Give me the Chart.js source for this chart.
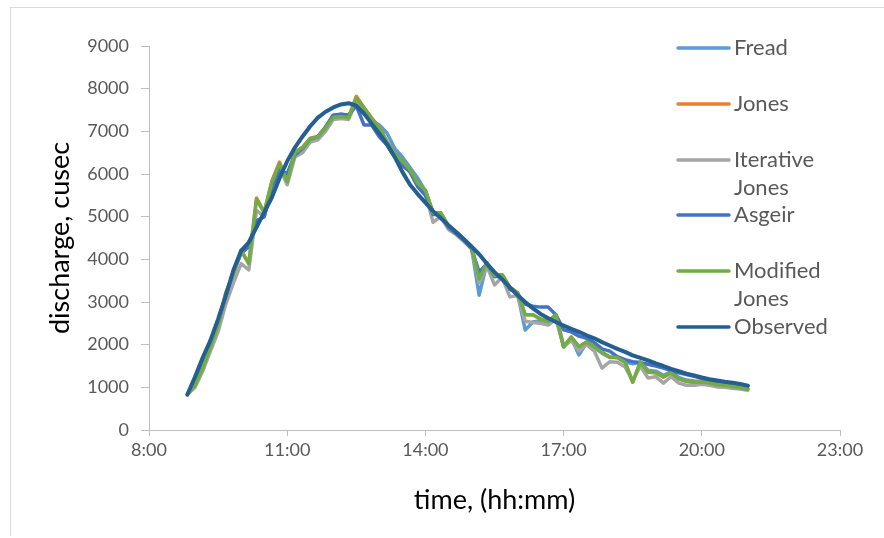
<!DOCTYPE html>
<html>
<head>
<meta charset="utf-8">
<script src="https://cdn.jsdelivr.net/npm/chart.js@4.4.1/dist/chart.umd.min.js"></script>
<style>
  html, body { margin: 0; padding: 0; background: #fff; }
  #wrap { width: 884px; height: 538px; position: relative; }
  #frame { position: absolute; left: 10px; top: 7px; right: 0; bottom: 2px;
           border-left: 1px solid #D9D9D9; border-top: 1px solid #D9D9D9; pointer-events: none; }
</style>
</head>
<body>
<div id="wrap"><canvas id="flood" width="884" height="538"></canvas><div id="frame"></div></div>
<script>
// time of each reading (hh:mm), 10 minute steps
const times = [
  '8:50',
  '9:00', '9:10', '9:20', '9:30', '9:40', '9:50',
  '10:00', '10:10', '10:20', '10:30', '10:40', '10:50',
  '11:00', '11:10', '11:20', '11:30', '11:40', '11:50',
  '12:00', '12:10', '12:20', '12:30', '12:40', '12:50',
  '13:00', '13:10', '13:20', '13:30', '13:40', '13:50',
  '14:00', '14:10', '14:20', '14:30', '14:40', '14:50',
  '15:00', '15:10', '15:20', '15:30', '15:40', '15:50',
  '16:00', '16:10', '16:20', '16:30', '16:40', '16:50',
  '17:00', '17:10', '17:20', '17:30', '17:40', '17:50',
  '18:00', '18:10', '18:20', '18:30', '18:40', '18:50',
  '19:00', '19:10', '19:20', '19:30', '19:40', '19:50',
  '20:00', '20:10', '20:20', '20:30', '20:40', '20:50',
  '21:00'
];

const fread = [
  830,
  1150, 1600, 2050, 2500, 3150, 3700,
  4150, 4300, 4900, 5000, 5700, 6100,
  6000, 6450, 6600, 6820, 6870, 7100,
  7380, 7400, 7380, 7650, 7400, 7250,
  7150, 6960, 6600, 6400, 6150, 5900,
  5600, 5100, 5080, 4780, 4630, 4450,
  4280, 3160, 3900, 3600, 3620, 3330,
  3200, 2340, 2530, 2560, 2540, 2680,
  1960, 2150, 1760, 2040, 1930, 1800,
  1700, 1700, 1600, 1550, 1580, 1400,
  1380, 1280, 1360, 1230, 1170, 1150,
  1140, 1120, 1080, 1070, 1040, 1010,
  970
];

const jones = [
  830,
  1060, 1460, 1960, 2460, 3220, 3660,
  4220, 3900, 5440, 5100, 5840, 6280,
  5820, 6510, 6630, 6840, 6880, 7100,
  7340, 7360, 7330, 7820, 7560, 7310,
  7100, 6760, 6480, 6300, 6100, 5780,
  5620, 5090, 5090, 4780, 4640, 4480,
  4300, 3540, 3920, 3620, 3640, 3350,
  3220, 2700, 2700, 2600, 2540, 2700,
  1950, 2180, 1950, 2060, 1950, 1820,
  1710, 1700, 1590, 1120, 1590, 1360,
  1340, 1240, 1340, 1200, 1140, 1120,
  1120, 1100, 1060, 1050, 1020, 990,
  950
];

const iterativeJones = [
  830,
  1000, 1380, 1850, 2300, 2950, 3450,
  3900, 3750, 5150, 5000, 5650, 6150,
  5750, 6400, 6500, 6750, 6800, 7000,
  7280, 7300, 7280, 7700, 7500, 7250,
  7050, 6720, 6420, 6250, 6050, 5720,
  5550, 4870, 5000, 4700, 4580, 4420,
  4250, 3450, 3850, 3400, 3580, 3120,
  3150, 2550, 2520, 2500, 2460, 2600,
  1950, 2100, 1850, 2000, 1850, 1450,
  1600, 1590, 1480, 1150, 1500, 1220,
  1250, 1100, 1250, 1100, 1050, 1050,
  1070, 1050, 1010, 1000, 980, 960,
  930
];

const asgeir = [
  830,
  1150, 1600, 2050, 2500, 3150, 3700,
  4150, 4300, 4900, 5000, 5700, 6100,
  6000, 6450, 6600, 6820, 6870, 7100,
  7380, 7400, 7380, 7600, 7150, 7150,
  6870, 6680, 6400, 6200, 6050, 5700,
  5500, 5050, 5050, 4750, 4600, 4450,
  4250, 3700, 3900, 3600, 3600, 3300,
  3200, 2950, 2900, 2880, 2880, 2700,
  2350, 2300, 2200, 2150, 2050, 1900,
  1850, 1720, 1650, 1600, 1580, 1540,
  1500, 1450, 1390, 1340, 1300, 1260,
  1210, 1170, 1140, 1110, 1090, 1060,
  1030
];

const modifiedJones = [
  830,
  1050, 1450, 1950, 2450, 3200, 3650,
  4200, 3900, 5400, 5100, 5800, 6250,
  5820, 6500, 6620, 6830, 6870, 7080,
  7330, 7350, 7320, 7780, 7550, 7300,
  7100, 6750, 6480, 6300, 6100, 5780,
  5620, 5090, 5090, 4780, 4640, 4480,
  4300, 3540, 3920, 3620, 3640, 3350,
  3220, 2700, 2700, 2600, 2540, 2700,
  1950, 2180, 1950, 2060, 1950, 1820,
  1710, 1700, 1590, 1120, 1590, 1360,
  1340, 1240, 1340, 1200, 1140, 1120,
  1120, 1100, 1060, 1050, 1020, 990,
  950
];

const observed = [
  830,
  1250, 1700, 2100, 2600, 3150, 3750,
  4200, 4400, 4750, 5100, 5450, 5900,
  6300, 6620, 6880, 7120, 7320, 7460,
  7560, 7630, 7660, 7600, 7420, 7180,
  6950, 6700, 6400, 6050, 5750, 5530,
  5330, 5130, 4970, 4800, 4640, 4470,
  4300, 4120, 3900, 3700, 3530, 3340,
  3160, 3000, 2850, 2720, 2620, 2530,
  2450, 2370, 2300, 2220, 2150, 2060,
  1980, 1900, 1830, 1750, 1690, 1630,
  1560, 1500, 1430, 1380, 1320, 1280,
  1230, 1190, 1160, 1130, 1110, 1080,
  1040
];

// axis range, in minutes after midnight
const xMin = 480;   // 8:00
const xMax = 1380;  // 23:00
const xStep = 180;  // 3 hours

const seriesNames = ['Fread', 'Jones', 'Iterative Jones', 'Asgeir', 'Modified Jones', 'Observed'];
const legendLabels = [['Fread'], ['Jones'], ['Iterative', 'Jones'], ['Asgeir'], ['Modified', 'Jones'], ['Observed']];

function toMinutes(t) {
  const [h, m] = t.split(':').map(Number);
  return h * 60 + m;
}

function fmtTime(v) {
  const h = Math.floor(v / 60);
  const m = v % 60;
  return h + ':' + (m < 10 ? '0' + m : m);
}

function points(values) {
  return values.map((v, i) => ({ x: toMinutes(times[i]), y: v }));
}

const colors = ['#5B9BD5', '#ED7D31', '#A5A5A5', '#4472C4', '#70AD47', '#255E91'];
const allSeries = [fread, jones, iterativeJones, asgeir, modifiedJones, observed];

const datasets = allSeries.map((vals, i) => ({
  label: seriesNames[i],
  data: points(vals),
  borderColor: colors[i],
  backgroundColor: colors[i],
  borderWidth: i === 5 ? 4 : 3.5,
  pointRadius: 0,
  tension: 0,
  borderCapStyle: 'round',
  borderJoinStyle: 'round',
  // later series sit on top, like the spreadsheet
  order: 5 - i
}));

// legend sits inside the plot on the right, text wraps like the original
const sideLegend = {
  id: 'sideLegend',
  afterDatasetsDraw(chart) {
    const ctx = chart.ctx;
    const rowY = [48, 104, 160, 215, 271, 327];
    ctx.save();
    ctx.font = '22px Lato';
    ctx.textBaseline = 'middle';
    ctx.textAlign = 'left';
    chart.data.datasets.forEach((ds, i) => {
      const y = rowY[i];
      ctx.strokeStyle = ds.borderColor;
      ctx.lineWidth = 3.5;
      ctx.lineCap = 'round';
      ctx.beginPath();
      ctx.moveTo(678, y);
      ctx.lineTo(729, y);
      ctx.stroke();
      ctx.fillStyle = '#595959';
      legendLabels[i].forEach((line, k) => ctx.fillText(line, 734, y + k * 28));
    });
    ctx.restore();
  }
};

const tickFont = { family: 'Lato', size: 18 };
const titleFont = { family: 'Lato', size: 27 };

new Chart(document.getElementById('flood'), {
  type: 'line',
  data: { datasets: datasets },
  options: {
    responsive: false,
    animation: false,
    layout: { padding: { top: 46, right: 44, left: 0, bottom: 0 } },
    plugins: {
      legend: { display: false },
      tooltip: { enabled: false }
    },
    scales: {
      x: {
        type: 'linear',
        min: xMin,
        max: xMax,
        ticks: {
          stepSize: xStep,
          callback: v => fmtTime(v),
          color: '#595959',
          font: tickFont,
          padding: 3,
          maxRotation: 0,
          autoSkip: false
        },
        grid: { drawOnChartArea: false, tickLength: 6, color: '#BFBFBF' },
        border: { color: '#BFBFBF' },
        title: {
          display: true,
          text: 'time, (hh:mm)',
          color: '#000',
          font: titleFont,
          padding: { top: 0, bottom: 22 }
        },
        afterFit: s => { s.height = 108; }
      },
      y: {
        min: 0,
        max: 9000,
        ticks: {
          stepSize: 1000,
          callback: v => String(v),
          color: '#595959',
          font: tickFont,
          padding: 12
        },
        grid: { drawOnChartArea: false, tickLength: 8, color: '#BFBFBF' },
        border: { color: '#BFBFBF' },
        title: {
          display: true,
          text: 'discharge, cusec',
          color: '#000',
          font: titleFont,
          padding: { top: 44, bottom: 0 }
        },
        afterFit: s => { s.width = 149; }
      }
    }
  },
  plugins: [sideLegend]
});
</script>
</body>
</html>
